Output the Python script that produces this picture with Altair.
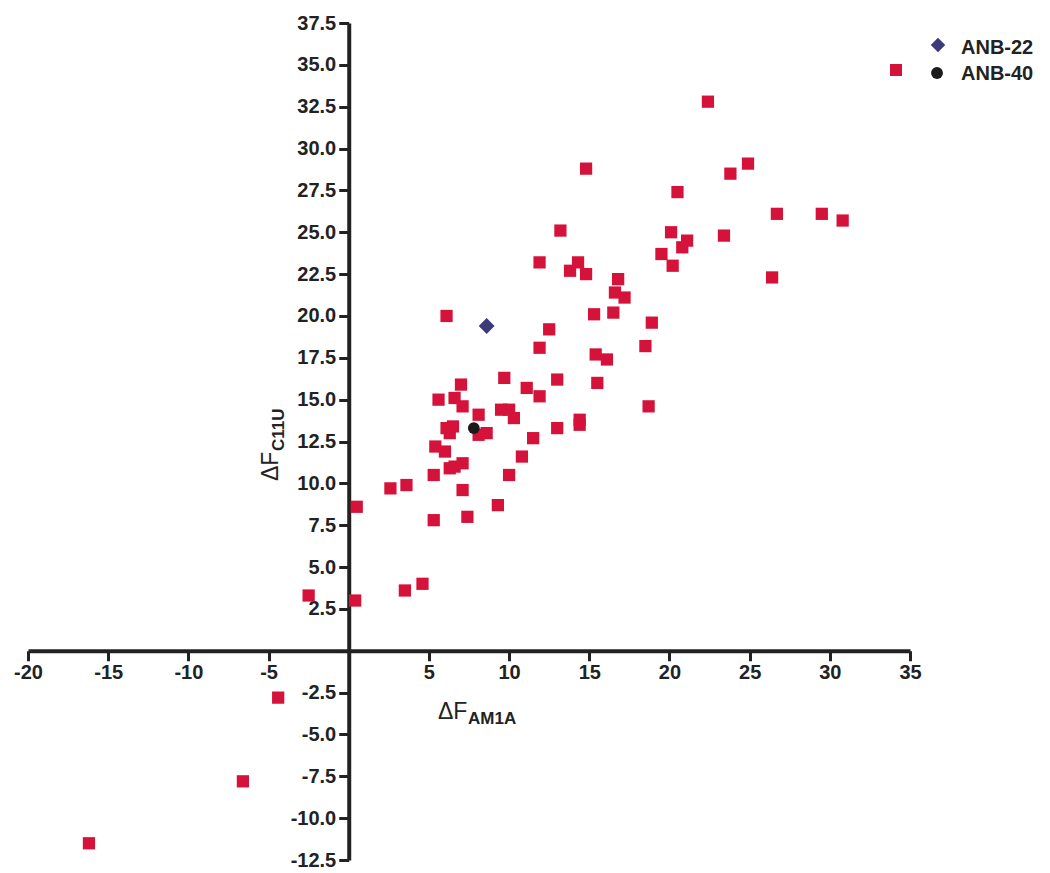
import altair as alt
import pandas as pd

# ---- data ----
other_x = [-16.2, -6.6, -4.4, -2.5, 0.4, 0.5, 2.6, 3.6, 3.5, 4.6,
           5.3, 7.4, 9.3, 7.1, 5.3, 10.0, 6.3, 6.6, 7.1, 10.8,
           5.4, 6.0, 11.5, 6.3, 6.1, 6.5, 8.1, 8.6, 13.0, 14.4,
           14.4, 8.1, 9.5, 10.0, 10.3, 5.6, 6.6, 7.1, 7.0, 9.7,
           13.0, 11.1, 11.9, 15.5, 18.7, 15.4, 16.1, 11.9, 18.5, 12.5,
           18.9, 6.1, 15.3, 16.5, 16.6, 17.2, 16.8, 14.8, 13.8, 14.3,
           11.9, 13.2, 14.8, 19.5, 20.2, 20.8, 21.1, 20.1, 23.4, 26.4,
           20.5, 23.8, 24.9, 22.4, 26.7, 29.5, 30.8]
other_y = [-11.5, -7.8, -2.8, 3.3, 3.0, 8.6, 9.7, 9.9, 3.6, 4.0,
           7.8, 8.0, 8.7, 9.6, 10.5, 10.5, 10.9, 11.0, 11.2, 11.6,
           12.2, 11.9, 12.7, 13.0, 13.3, 13.4, 12.9, 13.0, 13.3, 13.5,
           13.8, 14.1, 14.4, 14.4, 13.9, 15.0, 15.1, 14.6, 15.9, 16.3,
           16.2, 15.7, 15.2, 16.0, 14.6, 17.7, 17.4, 18.1, 18.2, 19.2,
           19.6, 20.0, 20.1, 20.2, 21.4, 21.1, 22.2, 22.5, 22.7, 23.2,
           23.2, 25.1, 28.8, 23.7, 23.0, 24.1, 24.5, 25.0, 24.8, 22.3,
           27.4, 28.5, 29.1, 32.8, 26.1, 26.1, 25.7]
anb22_x = [8.6]
anb22_y = [19.4]
anb40_x = [7.8]
anb40_y = [13.3]

x_ticks = [-20, -15, -10, -5, 0, 5, 10, 15, 20, 25, 30, 35]
y_ticks = [-12.5, -10.0, -7.5, -5.0, -2.5, 0.0, 2.5, 5.0, 7.5, 10.0, 12.5, 15.0,
           17.5, 20.0, 22.5, 25.0, 27.5, 30.0, 32.5, 35.0, 37.5]
legend_labels = ["ANB-22", "ANB-40"]

# ---- layout ----
W, H = 882, 837
XMIN, XMAX, YMIN, YMAX = -20, 35, -12.5, 37.5
x_axis_offset = -H * (0 - YMIN) / (YMAX - YMIN)
y_axis_offset = -W * (0 - XMIN) / (XMAX - XMIN)

FONT = "Liberation Sans"
INK = "#222222"
RED = "#d5133a"
NAVY = "#3d3a7c"

common_axis = dict(
    title=None, grid=False, domainWidth=4, domainColor=INK,
    tickWidth=3, tickSize=10, tickColor=INK,
    labelFont=FONT, labelFontWeight="bold", labelFontSize=20,
    labelColor=INK, labelFlush=False, labelOverlap=False,
    labelExpr="datum.value == 0 ? '' : replace(datum.label, '\u2212', '-')",
)
xaxis = alt.Axis(values=x_ticks, format="d", offset=x_axis_offset,
                 labelPadding=2, **common_axis)
yaxis = alt.Axis(values=y_ticks, format=".1f", offset=y_axis_offset,
                 labelPadding=3, **common_axis)

xs = alt.Scale(domain=[XMIN, XMAX], nice=False, zero=False)
ys = alt.Scale(domain=[YMIN, YMAX], nice=False, zero=False)

df_other = pd.DataFrame({"x": other_x, "y": other_y})
df_22 = pd.DataFrame({"x": anb22_x, "y": anb22_y})
df_40 = pd.DataFrame({"x": anb40_x, "y": anb40_y})

X = alt.X("x:Q", scale=xs, axis=xaxis)
Y = alt.Y("y:Q", scale=ys, axis=yaxis)

pts_other = alt.Chart(df_other).mark_point(
    shape="square", filled=True, size=150, color=RED, opacity=1
).encode(x=X, y=Y)
pts_22 = alt.Chart(df_22).mark_point(
    shape="diamond", filled=True, size=250, color=NAVY, opacity=1
).encode(x=X, y=Y)
pts_40 = alt.Chart(df_40).mark_point(
    shape="circle", filled=True, size=140, color="#1a1a1a", opacity=1
).encode(x=X, y=Y)

one = pd.DataFrame({"a": [0]})

def label(text, x, y, size, weight="normal", angle=0):
    kw = dict(text=text, align="left", baseline="alphabetic", font=FONT,
              fontSize=size, fontWeight=weight, color=INK)
    if angle:
        kw["angle"] = angle
    return alt.Chart(one).mark_text(**kw).encode(x=alt.value(x), y=alt.value(y))

# axis titles with subscripts
xt1 = label("ΔF", 410, 696, 23)
xt2 = label("AM1A", 440, 701, 17, "bold")
yt1 = label("ΔF", 250, 458, 23, angle=270)
yt2 = label("C11U", 256, 428, 17, "bold", angle=270)

# legend
def sym(shape, x, y, size, color):
    return alt.Chart(one).mark_point(
        shape=shape, filled=True, size=size, color=color, opacity=1
    ).encode(x=alt.value(x), y=alt.value(y))

lg = [
    sym("diamond", 910, 22, 210, NAVY),
    sym("square", 868, 47, 144, RED),
    sym("circle", 909, 50, 140, "#1a1a1a"),
    label(legend_labels[0], 933, 31, 20, "bold"),
    label(legend_labels[1], 933, 57, 20, "bold"),
]

chart = alt.layer(
    pts_other, pts_22, pts_40, xt1, xt2, yt1, yt2, *lg
).properties(width=W, height=H).configure_view(stroke=None)

chart.save("out.html", embed_options={"renderer": "svg", "actions": False})
